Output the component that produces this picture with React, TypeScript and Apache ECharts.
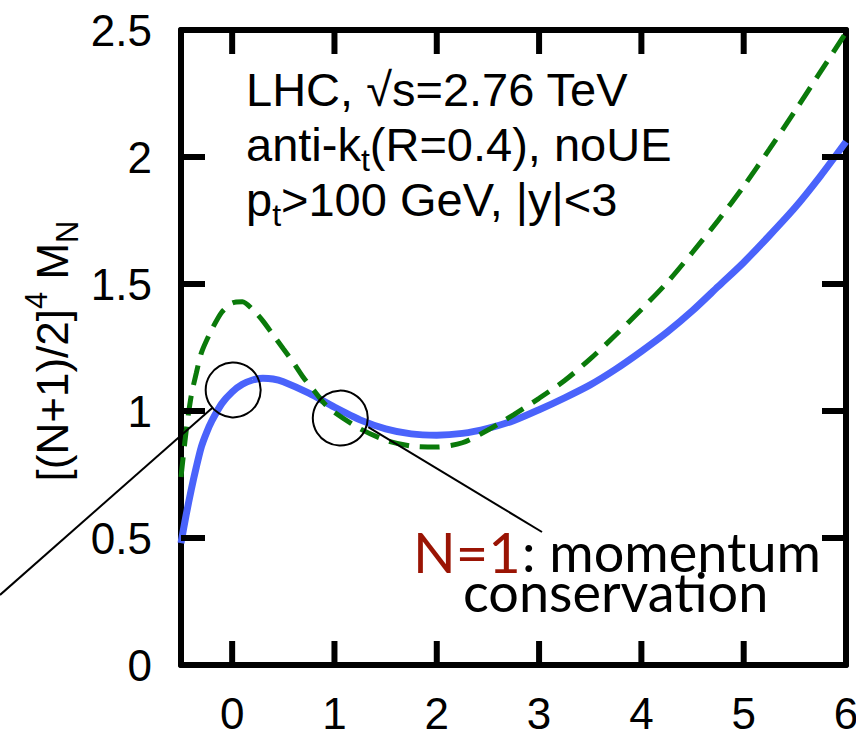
import React, { useEffect, useRef } from "react";
import * as echarts from "echarts";

// ---- data ----
const blueX = [-0.5, -0.45, -0.4, -0.35, -0.3, -0.25, -0.2, -0.1, 0, 0.1, 0.2, 0.3, 0.4, 0.5, 0.75, 1.0, 1.25, 1.5, 1.75, 2.0, 2.25, 2.5, 2.75, 3.0, 3.25, 3.5, 3.75, 4.0, 4.25, 4.5, 4.75, 5.0, 5.25, 5.5, 5.75, 6.0];
const blueY = [0.48, 0.59, 0.69, 0.78, 0.86, 0.915, 0.96, 1.03, 1.075, 1.105, 1.122, 1.129, 1.126, 1.115, 1.07, 1.015, 0.965, 0.93, 0.91, 0.905, 0.912, 0.932, 0.962, 1.005, 1.052, 1.103, 1.165, 1.235, 1.31, 1.395, 1.49, 1.585, 1.69, 1.8, 1.925, 2.06];
const greenX = [-0.5, -0.45, -0.4, -0.35, -0.3, -0.2, -0.1, 0, 0.1, 0.2, 0.3, 0.4, 0.5, 0.6, 0.7, 0.8, 0.9, 1.0, 1.25, 1.5, 1.75, 2.0, 2.25, 2.5, 2.75, 3.0, 3.25, 3.5, 3.75, 4.0, 4.25, 4.5, 4.75, 5.0, 5.25, 5.5, 5.75, 6.0];
const greenY = [0.74, 0.92, 1.06, 1.15, 1.23, 1.32, 1.39, 1.425, 1.43, 1.4, 1.355, 1.3, 1.245, 1.19, 1.13, 1.08, 1.03, 0.995, 0.93, 0.885, 0.862, 0.858, 0.875, 0.925, 0.985, 1.05, 1.12, 1.205, 1.3, 1.4, 1.505, 1.625, 1.75, 1.885, 2.03, 2.18, 2.335, 2.49];
const xTickValues = [0, 1, 2, 3, 4, 5];
const xLabelValues = [0, 1, 2, 3, 4, 5, 6];
const yTickValues = [0.5, 1, 1.5, 2];
const infoLines = ["{m|LHC, √s=2.76 TeV}", "{m|anti-k}{sub|t}{m|(R=0.4), noUE}", "{m|p}{sub|t}{m|>100 GeV, |y|<3}"];
// annotation circles (data coordinates of centres)
const circleCentres = [[0.01, 1.083], [1.057, 0.972]];

const HELV = "'Liberation Sans', Arial, Helvetica, sans-serif";
const GILL = "Lato, 'Open Sans', sans-serif";
const X_MIN = -0.5, X_MAX = 6, Y_MIN = 0, Y_MAX = 2.5;

export default function App() {
  const ref = useRef<HTMLDivElement>(null);
  useEffect(() => {
    if (!ref.current) return;
    document.body.style.margin = "0";
    const chart = echarts.init(ref.current, null, { renderer: "svg" });
    const mkLine = () => ({ show: true, onZero: false, lineStyle: { color: "#000", width: 6 } });
    const labelStyle = { color: "#000", fontSize: 44, fontFamily: HELV };
    // tick descriptors: [value, side] side 0 bottom, 1 top, 2 left, 3 right
    const tickData: number[][] = [];
    xTickValues.forEach((v) => { tickData.push([v, 0]); tickData.push([v, 1]); });
    yTickValues.forEach((v) => { tickData.push([v, 2]); tickData.push([v, 3]); });
    const TL = 24, TW = 6;
    chart.setOption({
      animation: false,
      backgroundColor: "#fff",
      grid: { left: 181, right: 10, top: 30, bottom: 66, containLabel: false, outerBoundsMode: "none" },
      xAxis: [
        {
          type: "value", min: X_MIN, max: X_MAX, position: "bottom",
          axisLine: mkLine(), axisTick: { show: false },
          axisLabel: { ...labelStyle, margin: 26, customValues: xLabelValues },
          splitLine: { show: false },
        },
        {
          type: "value", min: X_MIN, max: X_MAX, position: "top",
          axisLine: mkLine(), axisTick: { show: false },
          axisLabel: { show: false }, splitLine: { show: false },
        },
      ],
      yAxis: [
        {
          type: "value", min: Y_MIN, max: Y_MAX, interval: 0.5, position: "left",
          axisLine: mkLine(), axisTick: { show: false },
          axisLabel: { ...labelStyle, margin: 29 },
          splitLine: { show: false },
        },
        {
          type: "value", min: Y_MIN, max: Y_MAX, interval: 0.5, position: "right",
          axisLine: mkLine(), axisTick: { show: false },
          axisLabel: { show: false }, splitLine: { show: false },
        },
      ],
      series: [
        {
          type: "line", name: "blue", showSymbol: false, smooth: 0.25,
          data: blueX.map((x, i) => [x, blueY[i]]),
          lineStyle: { color: "#4a63fb", width: 7 },
          z: 2,
        },
        {
          type: "line", name: "green", showSymbol: false, smooth: 0.25,
          data: greenX.map((x, i) => [x, greenY[i]]),
          lineStyle: { color: "#0a7a0a", width: 5, type: [20, 11] },
          z: 3,
        },
        {
          type: "custom", name: "ticks", clip: false, silent: true, z: 10,
          data: tickData,
          renderItem: (params: any, api: any) => {
            const v = api.value(0);
            const side = api.value(1);
            let x = 0, y = 0, w = TW, h = TL;
            if (side === 0) { const p = api.coord([v, Y_MIN]); x = p[0] - TW / 2; y = p[1] - TL; }
            else if (side === 1) { const p = api.coord([v, Y_MAX]); x = p[0] - TW / 2; y = p[1]; }
            else if (side === 2) { const p = api.coord([X_MIN, v]); x = p[0]; y = p[1] - TW / 2; w = TL; h = TW; }
            else { const p = api.coord([X_MAX, v]); x = p[0] - TL; y = p[1] - TW / 2; w = TL; h = TW; }
            return { type: "rect", shape: { x, y, width: w, height: h }, style: { fill: "#000" } };
          },
        },
      ],
    });

    const px = (v: number[]) => chart.convertToPixel({ gridIndex: 0 }, v) as number[];
    const c1 = px(circleCentres[0]);
    const c2 = px(circleCentres[1]);
    const rad = 27.5;
    const richInfo = {
      m: { fontSize: 47, fontFamily: HELV, color: "#000", lineHeight: 62 },
      sub: { fontSize: 32, fontFamily: HELV, color: "#000", verticalAlign: "bottom" },
    };
    chart.setOption({
      graphic: [
        ...infoLines.map((t, i) => ({
          type: "text", left: 246, top: 66 + i * 55, z: 20,
          style: { text: t, rich: richInfo, fill: "#000", fontSize: 47, fontFamily: HELV },
        })),
        {
          type: "text", x: 52, y: 351, rotation: Math.PI / 2, z: 20,
          style: {
            text: "{m|[(N+1)/2]}{sup|4}{m| M}{sub|N}",
            align: "center", verticalAlign: "middle",
            rich: {
              m: { fontSize: 44, fontFamily: HELV, color: "#000", lineHeight: 62 },
              sup: { fontSize: 31, fontFamily: HELV, color: "#000", verticalAlign: "top" },
              sub: { fontSize: 31, fontFamily: HELV, color: "#000", verticalAlign: "bottom" },
            },
          },
        },
        { type: "circle", shape: { cx: c1[0], cy: c1[1], r: rad }, style: { fill: "none", stroke: "#000", lineWidth: 2 }, z: 20 },
        { type: "circle", shape: { cx: c2[0], cy: c2[1], r: rad }, style: { fill: "none", stroke: "#000", lineWidth: 2 }, z: 20 },
        { type: "line", shape: { x1: c1[0] - 21, y1: c1[1] + 18, x2: 0, y2: c1[1] + 205 }, style: { stroke: "#000", lineWidth: 2 }, z: 20 },
        { type: "line", shape: { x1: c2[0] + 28, y1: c2[1] + 9, x2: 542, y2: 532 }, style: { stroke: "#000", lineWidth: 2 }, z: 20 },
        {
          type: "text", x: 413, y: 551, z: 20,
          style: { text: "N=1", fill: "#9a1404", fontSize: 56, fontFamily: GILL, verticalAlign: "middle" },
        },
        {
          type: "text", x: 522, y: 551, z: 20,
          style: { text: ": momentum", fill: "#000", fontSize: 54, fontFamily: GILL, verticalAlign: "middle" },
        },
        {
          type: "text", x: 463, y: 591, z: 20,
          style: { text: "conservation", fill: "#000", fontSize: 54, fontFamily: GILL, verticalAlign: "middle" },
        },
      ],
    });
    return () => chart.dispose();
  }, []);
  return <div ref={ref} style={{ position: "absolute", left: 0, top: 0, width: 856, height: 731 }} />;
}
